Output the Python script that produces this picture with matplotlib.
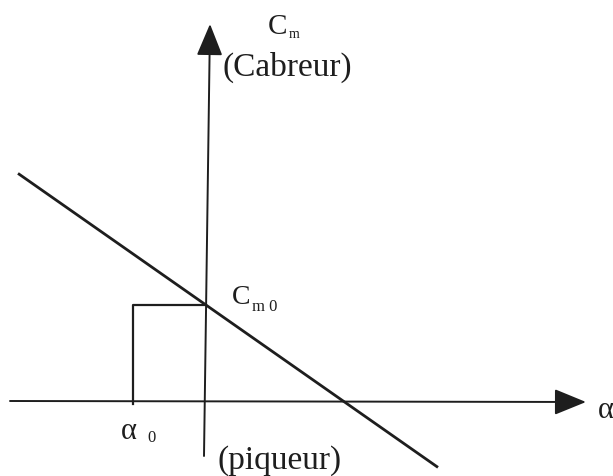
import matplotlib
matplotlib.use("Agg")
import matplotlib.pyplot as plt

# Pitching-moment diagram: Cm versus angle of attack alpha
alpha0 = -73.0          # angle at which the marked moment is read
cm0 = 99.0              # moment coefficient at alpha = 0
slope = -0.70           # dCm/dalpha (stable: negative)
alpha_line = [-188.0, 232.0]   # extent of the Cm(alpha) line

cm_line = [cm0 + slope * a for a in alpha_line]

W, H = 613, 477
ox, oy = 206, 405   # figure-pixel position of the origin

fig = plt.figure(figsize=(W / 100, H / 100), dpi=100)
ax = fig.add_axes([0, 0, 1, 1])
ax.set_xlim(-ox, W - ox)
ax.set_ylim(-(H - oy), oy)
ax.axis("off")

ink = "#1e1e1e"
serif = "Liberation Serif"

# axes with arrow heads
ax.annotate("", xy=(380, 2), xytext=(-196, 3),
            arrowprops=dict(arrowstyle="-|>,head_length=1.1,head_width=0.45",
                            color=ink, lw=1.4, mutation_scale=18,
                            shrinkA=0, shrinkB=0))
ax.annotate("", xy=(4, 380), xytext=(-2, -52),
            arrowprops=dict(arrowstyle="-|>,head_length=1.1,head_width=0.45",
                            color=ink, lw=1.4, mutation_scale=18,
                            shrinkA=0, shrinkB=0))

# Cm(alpha) line
ax.plot(alpha_line, cm_line, color=ink, lw=2.0, solid_capstyle="butt")

# bracket marking alpha0 and Cm0
ax.plot([alpha0, alpha0, 0], [0, cm0, cm0], color=ink, lw=1.6)

# labels
ax.text(62, 378, "C", family=serif, fontsize=21, color=ink,
        ha="left", va="center")
ax.text(83, 370, "m", family=serif, fontsize=10, color=ink,
        ha="left", va="center")
ax.text(81, 338, "(Cabreur)", family=serif, fontsize=24, color=ink,
        ha="center", va="center")
ax.text(26, 107, "C", family=serif, fontsize=20, color=ink,
        ha="left", va="center")
ax.text(46, 98, "m 0", family=serif, fontsize=12, color=ink,
        ha="left", va="center")
ax.text(-85, -27, "α", family=serif, fontsize=22, color=ink,
        ha="left", va="center")
ax.text(-59, -33, "0", family=serif, fontsize=12, color=ink,
        ha="left", va="center")
ax.text(74, -56, "(piqueur)", family=serif, fontsize=24, color=ink,
        ha="center", va="center")
ax.text(392, -6, "α", family=serif, fontsize=22, color=ink,
        ha="left", va="center")

fig.savefig("out.png", dpi=100)
